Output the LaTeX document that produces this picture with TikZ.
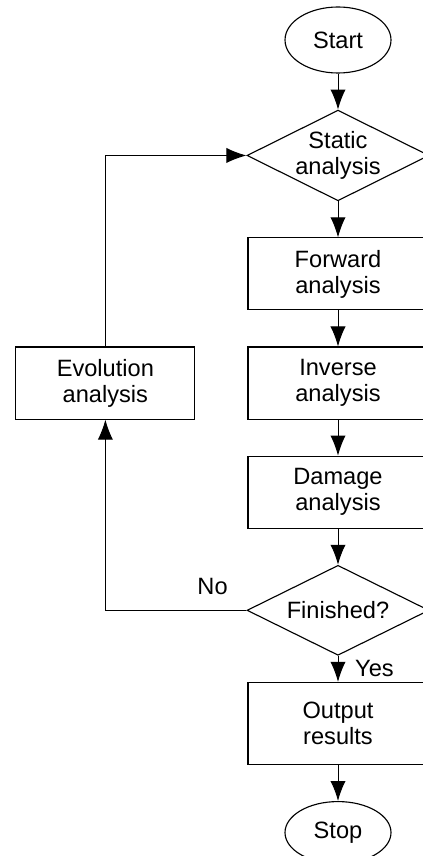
\documentclass[tikz,border=0pt]{standalone}
\usepackage{fontspec}
\setmainfont{Liberation Sans}
\usepackage{tikz}
\usetikzlibrary{arrows.meta,positioning,shapes.geometric}

\begin{document}
\begin{tikzpicture}[
    node distance=0.9cm,
    every node/.style={font=\fontsize{16.8pt}{18.5pt}\selectfont},
    box/.style={rectangle, draw=black, line width=0.8pt, align=center, minimum width=4.5cm, minimum height=1.8cm},
    terminal/.style={ellipse, draw=black, line width=0.8pt, minimum width=2.65cm, minimum height=1.65cm, inner sep=0pt},
    decision/.style={diamond, draw=black, line width=0.8pt, align=center, aspect=2, minimum width=4.55cm, minimum height=2.25cm, inner sep=0pt},
    arrow/.style={-{Latex[length=5mm, width=3.8mm]}, line width=0.7pt, draw=black}
  ]
    \useasboundingbox (0,0) rectangle (10.55,-21.4);
    \node[terminal] (start) at (8.45,-1.0) {Start};
    \node[decision, below=of start] (static) {Static\\analysis};
    \node[box, below=of static] (forward) {Forward\\analysis};
    \node[box, below=of forward] (inverse) {Inverse\\analysis};
    \node[box, below=of inverse] (damage) {Damage\\analysis};
    \node[decision, below=of damage] (finished) {Finished?};
    \node[box, below=0.65cm of finished, minimum height=2.05cm] (output) {Output\\results};
    \node[terminal, below=of output, minimum height=1.55cm] (stop) {Stop};
    \node[box, left=1.3cm of inverse, minimum width=4.475cm] (evolution) {Evolution\\analysis};
    \draw[arrow] (start) -- (static);
    \draw[arrow] (static) -- (forward);
    \draw[arrow] (forward) -- (inverse);
    \draw[arrow] (inverse) -- (damage);
    \draw[arrow] (damage) -- (finished);
    \draw[arrow] (finished) -- node[right=0.3cm] (yes) {Yes} (output);
    \draw[arrow] (output) -- (stop);
    \draw[arrow] (finished.west) -| node[above=0.25cm, pos=0.12] (no) {No} (evolution.south);
    \draw[arrow] (evolution.north) |- (static.west);
  \end{tikzpicture}
\end{document}
